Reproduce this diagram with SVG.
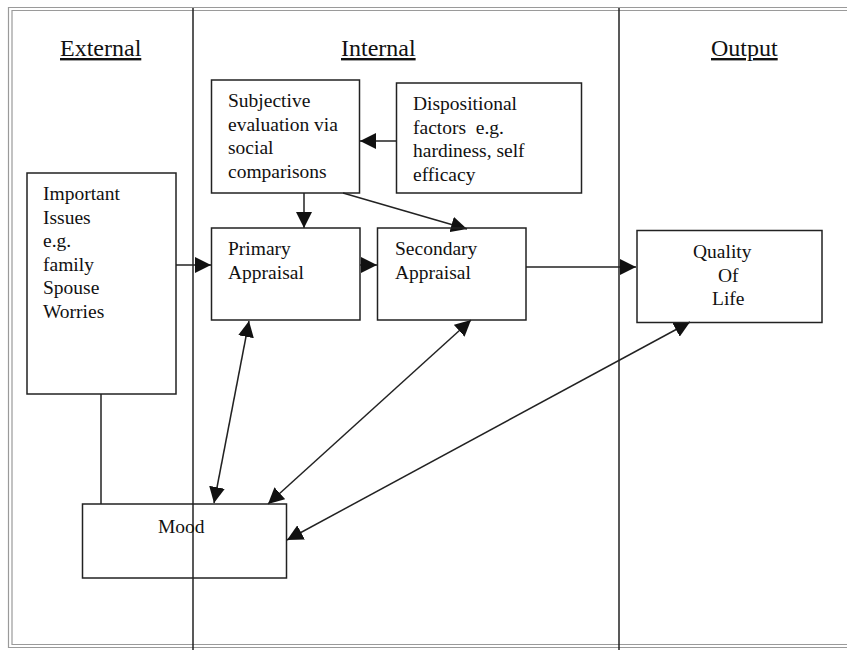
<svg xmlns="http://www.w3.org/2000/svg" width="847" height="650" viewBox="0 0 847 650">
<style>
  text { font-family: "Liberation Serif", "Times New Roman", serif; fill: #111; }
  .t { font-size: 19.5px; }
  .h { font-size: 24px; text-decoration: underline; }
  .box { fill: none; stroke: #222; stroke-width: 1.5; }
  .div { stroke: #222; stroke-width: 1.5; }
  .frame { fill: none; stroke: #9a9a9a; stroke-width: 1.2; }
  .c { stroke: #222; stroke-width: 1.5; fill: none; }
  .ca { stroke: #222; stroke-width: 1.5; fill: none; marker-end: url(#ah); }
  .cb { stroke: #222; stroke-width: 1.5; fill: none; marker-start: url(#as); marker-end: url(#ah); }
</style>
<defs>
  <marker id="ah" viewBox="0 0 10 10" refX="10" refY="5" markerWidth="16" markerHeight="16" markerUnits="userSpaceOnUse" orient="auto">
    <path d="M0,0 L10,5 L0,10 z" fill="#111"/>
  </marker>
  <marker id="as" viewBox="0 0 10 10" refX="0" refY="5" markerWidth="16" markerHeight="16" markerUnits="userSpaceOnUse" orient="auto">
    <path d="M10,0 L0,5 L10,10 z" fill="#111"/>
  </marker>
</defs>
<rect width="847" height="650" fill="#fff"/>
<g id="frame">
  <path class="frame" d="M847,7.5 H8.5 V647.5 H847"/>
  <path class="frame" d="M847,10.5 H12 V644.5 H847"/>
  <line class="div" x1="193" y1="8" x2="193" y2="650"/>
  <line class="div" x1="619" y1="8" x2="619" y2="650"/>
</g>
<g id="headers">
  <text class="h" x="60" y="56">External</text>
  <text class="h" x="341" y="56">Internal</text>
  <text class="h" x="711" y="56">Output</text>
</g>
<g id="connectors">
  <line class="c" x1="101" y1="394" x2="101" y2="504"/>
  <line class="ca" x1="396" y1="141" x2="360" y2="141"/>
  <line class="ca" x1="304" y1="193" x2="304" y2="228"/>
  <line class="ca" x1="343" y1="193" x2="467" y2="229"/>
  <line class="ca" x1="176" y1="265" x2="211" y2="265"/>
  <line class="ca" x1="360" y1="265" x2="377" y2="265"/>
  <line class="ca" x1="526" y1="267" x2="636" y2="267"/>
  <line class="cb" x1="214" y1="503" x2="249" y2="321"/>
  <line class="cb" x1="268" y1="504" x2="471" y2="320"/>
  <line class="cb" x1="287" y1="540" x2="690" y2="322"/>
</g>
<g id="important">
  <rect class="box" x="27" y="173" width="149" height="221"/>
  <text class="t" x="43" y="200">Important</text>
  <text class="t" x="43" y="223.5">Issues</text>
  <text class="t" x="43" y="247">e.g.</text>
  <text class="t" x="43" y="270.5">family</text>
  <text class="t" x="43" y="294">Spouse</text>
  <text class="t" x="43" y="317.5">Worries</text>
</g>
<g id="subjective">
  <rect class="box" x="211.5" y="80" width="148" height="113"/>
  <text class="t" x="228" y="107">Subjective</text>
  <text class="t" x="228" y="130.5">evaluation via</text>
  <text class="t" x="228" y="154">social</text>
  <text class="t" x="228" y="177.5">comparisons</text>
</g>
<g id="dispositional">
  <rect class="box" x="396.5" y="83" width="185" height="110"/>
  <text class="t" x="413" y="110">Dispositional</text>
  <text class="t" x="413" y="133.5" xml:space="preserve">factors  e.g.</text>
  <text class="t" x="413" y="157">hardiness, self</text>
  <text class="t" x="413" y="180.5">efficacy</text>
</g>
<g id="primary">
  <rect class="box" x="211.5" y="228" width="148.5" height="92"/>
  <text class="t" x="228" y="255">Primary</text>
  <text class="t" x="228" y="278.5">Appraisal</text>
</g>
<g id="secondary">
  <rect class="box" x="377.5" y="228" width="148.5" height="92"/>
  <text class="t" x="395" y="255">Secondary</text>
  <text class="t" x="395" y="278.5">Appraisal</text>
</g>
<g id="quality">
  <rect class="box" x="637" y="230.5" width="185" height="92"/>
  <text class="t" x="693" y="258">Quality</text>
  <text class="t" x="718" y="281.5">Of</text>
  <text class="t" x="712" y="305">Life</text>
</g>
<g id="mood">
  <rect class="box" x="82.5" y="504" width="204" height="74"/>
  <text class="t" x="158" y="533">Mood</text>
</g>
</svg>
